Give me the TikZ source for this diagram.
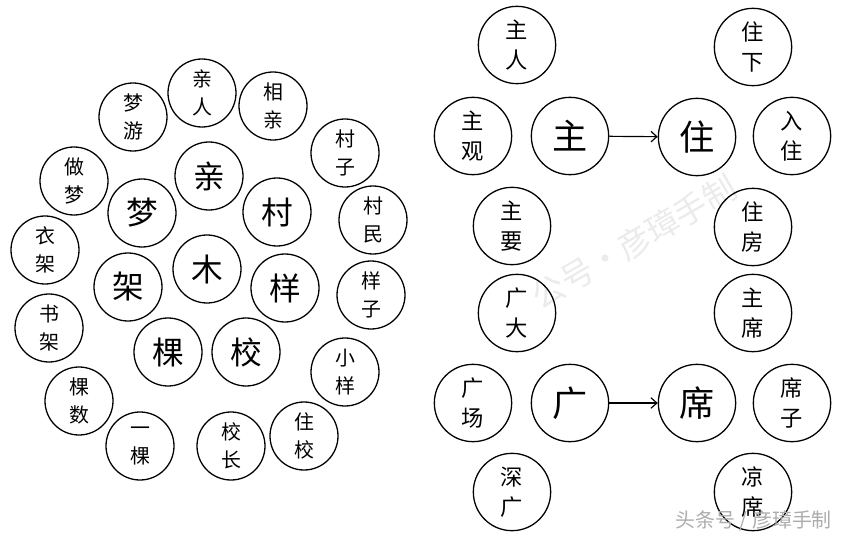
\documentclass[tikz,border=0pt]{standalone}
\usepackage{fontspec}
\newfontfamily\cjk{Noto Sans CJK SC}
\usetikzlibrary{arrows.meta}
\tikzset{
  leaf/.style={circle, draw, line width=1.1pt, minimum size=2.04cm, inner sep=0pt,
    align=center, font=\cjk\fontsize{17}{24}\selectfont},
  hub/.style={leaf, font=\cjk\fontsize{27}{30}\selectfont},
  rleaf/.style={leaf, minimum size=2.32cm, font=\cjk\fontsize{19}{26}\selectfont},
  rhub/.style={rleaf, font=\cjk\fontsize{30}{32}\selectfont},
  link/.style={-{Straight Barb[length=5pt, width=9pt]}, line width=1pt},
  stamp/.style={font=\cjk\fontsize{17}{18}\selectfont}
}
\begin{document}
\begin{tikzpicture}[x=0.03cm, y=-0.03cm]
    \useasboundingbox (0, 0) rectangle (847, 538) ;
    % watermark behind the drawing
    \node[gray!16, rotate=30, font=\cjk\fontsize{28}{30}\selectfont] (wm) at (634, 242) {公号·彦璋手制} ;
    % left group: characters with the tree radical
    \begin{scope}
      \node[hub] (mu) at (207, 269) {木} ;
      \node[hub] (qin) at (209, 176) {亲} ;
      \node[hub] (meng) at (142, 213) {梦} ;
      \node[hub] (cun) at (277, 212) {村} ;
      \node[hub] (jia) at (128, 287) {架} ;
      \node[hub] (yang) at (285, 288) {样} ;
      \node[hub] (ke) at (168, 352) {棵} ;
      \node[hub] (xiao) at (246, 352) {校} ;
      \node[leaf] (qinren) at (202, 93) {亲\\人} ;
      \node[leaf] (xiangqin) at (273, 106) {相\\亲} ;
      \node[leaf] (mengyou) at (133, 117) {梦\\游} ;
      \node[leaf] (zuomeng) at (74, 181) {做\\梦} ;
      \node[leaf] (cunzi) at (345, 153) {村\\子} ;
      \node[leaf] (cunmin) at (373, 220) {村\\民} ;
      \node[leaf] (yijia) at (45, 250) {衣\\架} ;
      \node[leaf] (yangzi) at (371, 295) {样\\子} ;
      \node[leaf] (shujia) at (49, 328) {书\\架} ;
      \node[leaf] (xiaoyang) at (345, 372) {小\\样} ;
      \node[leaf] (keshu) at (79, 401) {棵\\数} ;
      \node[leaf] (yike) at (140, 446) {一\\棵} ;
      \node[leaf] (xiaozhang) at (231, 446) {校\\长} ;
      \node[leaf] (zhuxiao) at (304, 436) {住\\校} ;
    \end{scope}
    % right group: adding a radical
    \begin{scope}
      \node[rhub] (zhu) at (570, 136) {主} ;
      \node[rhub] (zhuz) at (697, 137) {住} ;
      \node[rleaf] (zhuren) at (517, 45) {主\\人} ;
      \node[rleaf] (zhuguan) at (473, 136) {主\\观} ;
      \node[rleaf] (zhuyao) at (512, 226) {主\\要} ;
      \node[rleaf] (zhuxia) at (753, 47) {住\\下} ;
      \node[rleaf] (ruzhu) at (792, 136) {入\\住} ;
      \node[rleaf] (zhufang) at (753, 227) {住\\房} ;
      \draw[link] (zhu) -- (zhuz) ;
      \node[rhub] (guang) at (570, 403) {广} ;
      \node[rhub] (xi) at (697, 403) {席} ;
      \node[rleaf] (guangda) at (517, 313) {广\\大} ;
      \node[rleaf] (guangchang) at (473, 403) {广\\场} ;
      \node[rleaf] (shenguang) at (512, 492) {深\\广} ;
      \node[rleaf] (zhuxi) at (753, 313) {主\\席} ;
      \node[rleaf] (xizi) at (792, 403) {席\\子} ;
      \node[rleaf] (liangxi) at (753, 492) {凉\\席} ;
      \draw[link] (guang) -- (xi) ;
    \end{scope}
    \node[stamp, gray!65, anchor=east] (sign) at (836, 521) {头条号 / 彦璋手制} ;
  \end{tikzpicture}
\end{document}
